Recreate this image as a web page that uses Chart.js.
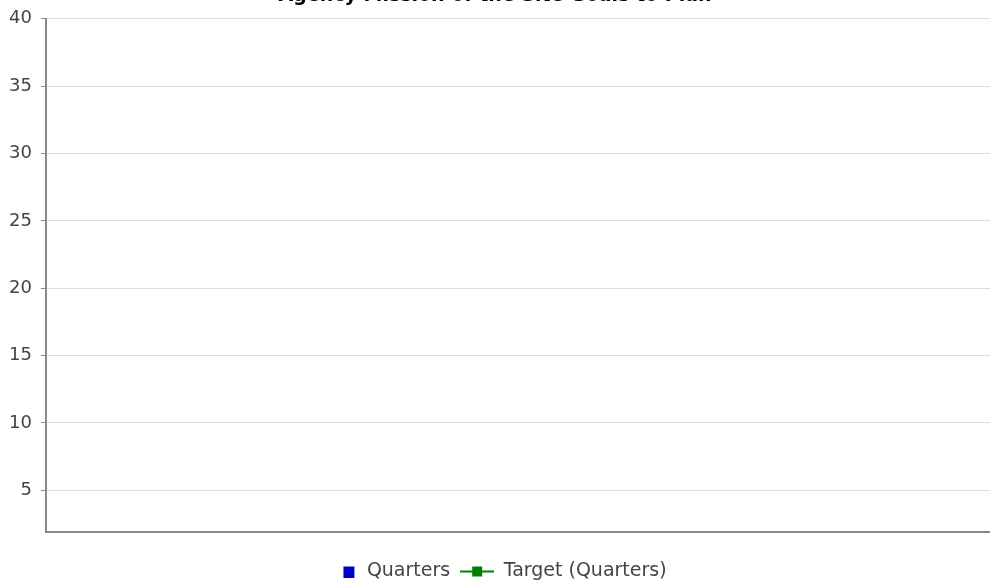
<!DOCTYPE html>
<html>
<head>
<meta charset="utf-8">
<script src="https://cdn.jsdelivr.net/npm/chart.js@4/dist/chart.umd.min.js"></script>
<style>
  html, body { margin: 0; padding: 0; background: #fff; overflow: hidden; }
  #wrap { position: absolute; left: 0; top: -22px; width: 990px; height: 617px; }
</style>
</head>
<body>
<div id="wrap"><canvas id="chart"></canvas></div>
<script>
// chart data (the reference shows an empty plot)
var chartTitle = "Agency Mission of the Site Goals to Plan";
var quarters = [];
var quarterValues = [];
var targetValues = [];
var yTicks = [5, 10, 15, 20, 25, 30, 35, 40];

// legend markers
function makeMarker(kind, color) {
    var c = document.createElement("canvas");
    c.width = 34;
    c.height = 12;
    var g = c.getContext("2d");
    g.fillStyle = color;
    if (kind === "line") {
        g.fillRect(0, 5, 34, 2);
        g.fillRect(12, 1, 10, 10);
    } else {
        g.fillRect(20, 1, 11, 11);
    }
    return c;
}
var barMarker = makeMarker("box", "#0000cc");
var lineMarker = makeMarker("line", "#008000");

var ctx = document.getElementById("chart").getContext("2d");
var chart = new Chart(ctx, {
    data: {
        labels: quarters,
        datasets: [
            {
                type: "bar",
                label: "Quarters",
                data: quarterValues,
                backgroundColor: "#0000cc",
            },
            {
                type: "line",
                label: "Target (Quarters)",
                data: targetValues,
                borderColor: "#008000",
                backgroundColor: "#008000",
                pointStyle: "rect",
                borderWidth: 2,
            },
        ],
    },
    options: {
        responsive: true,
        maintainAspectRatio: false,
        animation: false,
        layout: { padding: { left: 0, right: 0, bottom: 4 } },
        font: { family: "DejaVu Sans", size: 18 },
        plugins: {
            title: {
                display: true,
                text: chartTitle,
                color: "#000",
                font: { family: "DejaVu Sans", size: 19, weight: "bold" },
                padding: { top: 7, bottom: 11 },
            },
            legend: {
                position: "bottom",
                labels: {
                    usePointStyle: true,
                    pointStyleWidth: 34,
                    color: "#444",
                    padding: 10,
                    font: { family: "DejaVu Sans", size: 19 },
                    generateLabels: (c) => {
                        var items = Chart.defaults.plugins.legend.labels.generateLabels(c);
                        items[0].pointStyle = barMarker;
                        items[1].pointStyle = lineMarker;
                        return items;
                    },
                },
            },
            tooltip: { enabled: false },
        },
        scales: {
            x: {
                grid: { display: false },
                ticks: { display: false },
                border: { color: "#888", width: 2 },
                afterFit: (axis) => {
                    axis.height += 12;
                },
            },
            y: {
                min: 1.9,
                max: 40,
                afterBuildTicks: (axis) => {
                    axis.ticks = yTicks.map((v) => ({ value: v }));
                },
                grid: { color: "#dddddd", tickColor: "#888", tickLength: 5 },
                border: { color: "#888", width: 2 },
                ticks: {
                    color: "#444",
                    padding: 9,
                    font: { family: "DejaVu Sans", size: 18 },
                },
            },
        },
    },
});
</script>
</body>
</html>
